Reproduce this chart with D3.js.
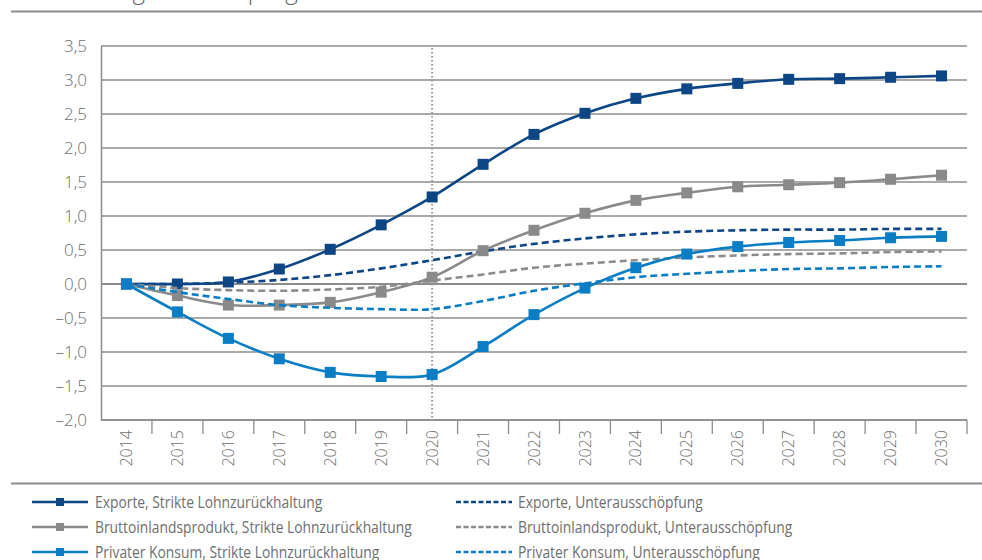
<!DOCTYPE html>
<html>
<head>
<meta charset="utf-8">
<script src="https://cdn.jsdelivr.net/npm/d3@7"></script>
<style>
body { margin:0; background:#fff; }
svg { display:block; }
</style>
</head>
<body>
<script>
// data
var years = ["2014","2015","2016","2017","2018","2019","2020","2021","2022","2023","2024","2025","2026","2027","2028","2029","2030"];
var exportStrikt = [0, 0.00, 0.03, 0.22, 0.51, 0.87, 1.28, 1.76, 2.20, 2.51, 2.73, 2.87, 2.95, 3.01, 3.02, 3.04, 3.06];
var exportUnter  = [0, 0.00, 0.02, 0.06, 0.13, 0.23, 0.35, 0.48, 0.59, 0.67, 0.73, 0.77, 0.79, 0.80, 0.80, 0.81, 0.81];
var bipStrikt    = [0, -0.17, -0.31, -0.31, -0.27, -0.12, 0.10, 0.49, 0.79, 1.04, 1.23, 1.34, 1.43, 1.46, 1.49, 1.54, 1.60];
var bipUnter     = [0, -0.06, -0.09, -0.10, -0.08, -0.04, 0.05, 0.14, 0.24, 0.30, 0.35, 0.39, 0.42, 0.44, 0.45, 0.47, 0.48];
var konsumStrikt = [0, -0.41, -0.80, -1.10, -1.30, -1.36, -1.33, -0.92, -0.45, -0.06, 0.24, 0.44, 0.55, 0.61, 0.64, 0.68, 0.70];
var konsumUnter  = [0, -0.12, -0.22, -0.31, -0.35, -0.37, -0.37, -0.25, -0.10, 0.01, 0.10, 0.15, 0.19, 0.22, 0.23, 0.25, 0.26];
var yTicks = [-2, -1.5, -1, -0.5, 0, 0.5, 1, 1.5, 2, 2.5, 3, 3.5];
var markerYear = "2020";
var title = "Abweichung zur Basisprognose in Prozent";

var series = [
	{name:"Exporte, Strikte Lohnzurückhaltung", values:exportStrikt, color:"#0d4585", dashed:false},
	{name:"Exporte, Unterausschöpfung", values:exportUnter, color:"#0d4585", dashed:true},
	{name:"Bruttoinlandsprodukt, Strikte Lohnzurückhaltung", values:bipStrikt, color:"#8a8a8a", dashed:false},
	{name:"Bruttoinlandsprodukt, Unterausschöpfung", values:bipUnter, color:"#8a8a8a", dashed:true},
	{name:"Privater Konsum, Strikte Lohnzurückhaltung", values:konsumStrikt, color:"#0a7dc5", dashed:false},
	{name:"Privater Konsum, Unterausschöpfung", values:konsumUnter, color:"#0a7dc5", dashed:true}
];

var width = 982, height = 560;
var plotLeft = 101, plotRight = 967, plotTop = 46, plotBottom = 420;
var axisFont = "'Open Sans', 'Liberation Sans', sans-serif";

var svg = d3.select("body").append("svg")
	.attr("width", width)
	.attr("height", height);

var x = d3.scaleBand().domain(years).range([plotLeft, plotRight]);
var y = d3.scaleLinear().domain([-2, 3.5]).range([plotBottom, plotTop]);

// title cut at the top, only descenders visible
svg.append("text")
	.attr("x", 14)
	.attr("y", -1)
	.attr("font-family", axisFont)
	.attr("font-weight", 300)
	.attr("font-size", 24)
	.attr("fill", "#666")
	.text(title);

svg.append("line")
	.attr("x1", 11).attr("x2", width)
	.attr("y1", 11.5).attr("y2", 11.5)
	.attr("stroke", "#8c8c8c").attr("stroke-width", 2);

//grid lines
svg.append("g").selectAll("line")
	.data(yTicks)
	.enter().append("line")
		.attr("x1", plotLeft).attr("x2", plotRight)
		.attr("y1", function(d){ return y(d); })
		.attr("y2", function(d){ return y(d); })
		.attr("stroke", "#8c8c8c")
		.attr("stroke-width", function(d){ return d == 0 ? 2.2 : 1.3; });

// y axis
var yAxis = svg.append("g")
	.attr("transform", "translate(" + plotLeft + ",0)")
	.call(d3.axisLeft(y).tickValues(yTicks).tickSize(0).tickPadding(14)
		.tickFormat(function(d){ return (d < 0 ? "\u2013" : "") + d3.format(".1f")(Math.abs(d)).replace(".", ","); }));
yAxis.select(".domain").attr("stroke", "#8c8c8c").attr("stroke-width", 1.5);
yAxis.selectAll("text")
	.attr("font-family", axisFont)
	.attr("font-weight", 300)
	.attr("font-size", 17)
	.attr("fill", "#6e6e6e");

// x axis, labels rotated
var xAxis = svg.append("g")
	.attr("transform", "translate(0," + plotBottom + ")")
	.call(d3.axisBottom(x).tickSize(0).tickPadding(0));
xAxis.select(".domain").remove();
xAxis.selectAll("text")
	.attr("transform", "rotate(-90)")
	.attr("x", -10)
	.attr("y", 0)
	.attr("dy", "0.35em")
	.attr("text-anchor", "end")
	.attr("font-family", axisFont)
	.attr("font-weight", 300)
	.attr("font-size", 16)
	.attr("fill", "#6e6e6e");
svg.append("line")
	.attr("x1", plotLeft).attr("x2", plotRight)
	.attr("y1", plotBottom).attr("y2", plotBottom)
	.attr("stroke", "#8c8c8c").attr("stroke-width", 1.5);
svg.append("g").selectAll("line")
	.data(years)
	.enter().append("line")
		.attr("x1", function(d){ return x(d) + x.bandwidth(); })
		.attr("x2", function(d){ return x(d) + x.bandwidth(); })
		.attr("y1", plotBottom).attr("y2", plotBottom + 14)
		.attr("stroke", "#8c8c8c").attr("stroke-width", 1.3);

// dotted marker line
svg.append("line")
	.attr("x1", x(markerYear) + x.bandwidth()/2)
	.attr("x2", x(markerYear) + x.bandwidth()/2)
	.attr("y1", plotTop + 2).attr("y2", plotBottom - 2)
	.attr("stroke", "#999").attr("stroke-width", 2)
	.attr("stroke-dasharray", "1.5,2.5");

var line = d3.line()
	.x(function(d, i){ return x(years[i]) + x.bandwidth()/2; })
	.y(function(d){ return y(d); })
	.curve(d3.curveCatmullRom);

series.forEach(function(s){
	svg.append("path")
		.attr("d", line(s.values))
		.attr("fill", "none")
		.attr("stroke", s.color)
		.attr("stroke-width", 2.6)
		.attr("stroke-dasharray", s.dashed ? "7,4" : null);
	if (!s.dashed){
		svg.append("g").selectAll("rect")
			.data(s.values)
			.enter().append("rect")
				.attr("x", function(d, i){ return x(years[i]) + x.bandwidth()/2 - 5.5; })
				.attr("y", function(d){ return y(d) - 5.5; })
				.attr("width", 11).attr("height", 11)
				.attr("fill", s.color);
	}
});

// legend
svg.append("line")
	.attr("x1", 11).attr("x2", width)
	.attr("y1", 483.5).attr("y2", 483.5)
	.attr("stroke", "#8c8c8c").attr("stroke-width", 2);

var legend = svg.append("g").selectAll("g")
	.data(series)
	.enter().append("g")
		.attr("transform", function(d, i){
			var col = i % 2, row = Math.floor(i / 2);
			return "translate(" + (col == 0 ? 32 : 456) + "," + (502 + row * 25) + ")";
		});
legend.append("line")
	.attr("x1", 0).attr("x2", 56)
	.attr("y1", 0).attr("y2", 0)
	.attr("stroke", function(d){ return d.color; })
	.attr("stroke-width", 2.6)
	.attr("stroke-dasharray", function(d){ return d.dashed ? "5,2.5" : null; });
legend.filter(function(d){ return !d.dashed; }).append("rect")
	.attr("x", 24).attr("y", -4)
	.attr("width", 8).attr("height", 8)
	.attr("fill", function(d){ return d.color; });
// condensed look: squeeze the text horizontally
legend.append("text")
	.attr("transform", function(d){ return "translate(" + (d.dashed ? 62 : 63) + ",0) scale(0.84,1)"; })
	.attr("dy", "0.35em")
	.attr("font-family", axisFont)
	.attr("font-size", 16.5)
	.attr("fill", "#6e6e6e")
	.text(function(d){ return d.name; });
</script>
</body>
</html>
